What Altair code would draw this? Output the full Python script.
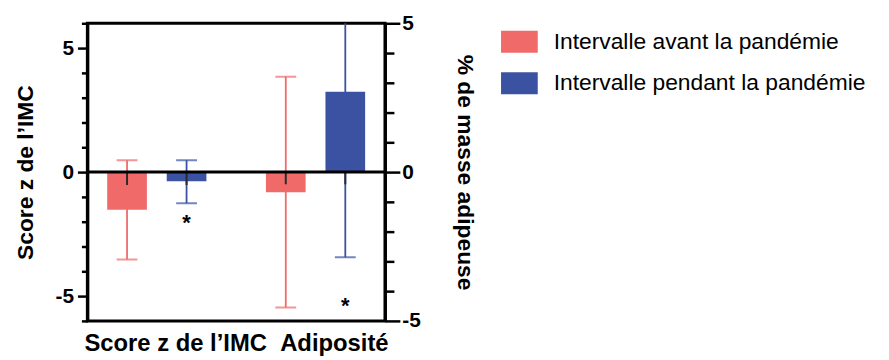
import altair as alt
import pandas as pd

groups = ["Score z de l’IMC", "Adiposité"]
series = ["Intervalle avant la pandémie", "Intervalle pendant la pandémie"]
colors = ["#F06A6A", "#3B52A3"]

# Score z de l'IMC (left axis)
bmi_mean = [-1.52, -0.37]
bmi_low = [-3.52, -1.26]
bmi_high = [0.48, 0.48]
bmi_stub = [-0.52, -0.52]
bmi_star = [None, -1.85]

# Adiposité (right axis, % de masse adipeuse)
adi_mean = [-0.68, 2.7]
adi_low = [-4.55, -2.86]
adi_high = [3.2, 5.3]
adi_stub = [-0.41, -0.41]
adi_star = [None, -4.33]

FONT = "Liberation Sans"

left_df = pd.DataFrame({"group": groups[0], "series": series, "mean": bmi_mean,
                        "low": bmi_low, "high": bmi_high, "stub": bmi_stub})
left_star = pd.DataFrame({"group": groups[0], "series": series, "star": bmi_star}).dropna()
right_df = pd.DataFrame({"group": groups[1], "series": series, "mean": adi_mean,
                         "low": adi_low, "high": adi_high, "stub": adi_stub})
right_star = pd.DataFrame({"group": groups[1], "series": series, "star": adi_star}).dropna()

x_axis = alt.Axis(ticks=False, domain=False, labelFontSize=24, labelFontWeight="bold",
                  labelFont=FONT, labelColor="black", labelPadding=11, labelOffset=19,
                  labelLimit=0, labelAngle=0)
X = alt.X("group:N", scale=alt.Scale(domain=groups, paddingInner=0.375, paddingOuter=0.125),
          axis=x_axis, title=None)
XO = alt.XOffset("series:N", scale=alt.Scale(domain=series, paddingInner=1/3, paddingOuter=0))

legend = alt.Legend(orient="none", legendX=417, legendY=0, title=None,
                    symbolType="M-1,-0.6H1V0.6H-1Z", symbolSize=1369, symbolStrokeWidth=0,
                    labelFontSize=23, labelFont=FONT, labelColor="black", labelOffset=16,
                    rowPadding=11, padding=0, labelLimit=0, symbolOpacity=1)
color_scale = alt.Scale(domain=series, range=colors)
C_leg = alt.Color("series:N", scale=color_scale, legend=legend)
C = alt.Color("series:N", scale=color_scale, legend=None)


def y_axis(orient, vals, major, minor, pad, title_pad):
    return alt.Axis(orient=orient, values=vals,
                    labelExpr="datum.value % 5 == 0 ? toString(datum.value) : ''",
                    tickSize={"condition": {"test": "datum.value % 5 == 0", "value": major}, "value": minor},
                    tickWidth=2.5, tickColor="black", domainWidth=3, domainColor="black",
                    labelFontSize=21, labelFontWeight="bold", labelFont=FONT, labelColor="black",
                    labelPadding=pad, titleFontSize=23, titleFontWeight="bold", titleFont=FONT,
                    titleColor="black", titlePadding=title_pad, grid=False)


def side(df, star_df, domain, axis, title, legend_on):
    ysc = alt.Scale(domain=domain, nice=False, zero=False)
    def Y(f):
        return alt.Y(f"{f}:Q", scale=ysc, axis=axis, title=title)
    bars = alt.Chart(df).mark_bar().encode(x=X, xOffset=XO, y=Y("mean"),
                                           color=C_leg if legend_on else C)
    whisk = alt.Chart(df).mark_rule(strokeWidth=1.8, clip=True).encode(
        x=X, xOffset=XO, y=Y("low"), y2="high:Q", color=C)
    cap_lo = alt.Chart(df).mark_tick(size=21, thickness=2, clip=True).encode(
        x=X, xOffset=XO, y=Y("low"), color=C)
    cap_hi = alt.Chart(df).mark_tick(size=21, thickness=2, clip=True).encode(
        x=X, xOffset=XO, y=Y("high"), color=C)
    stub = alt.Chart(df).mark_rule(strokeWidth=2, color="#2a2a2a").encode(
        x=X, xOffset=XO, y=Y("stub"), y2=alt.datum(0))
    star = alt.Chart(star_df).mark_text(text="*", fontSize=22, fontWeight="bold",
                                        font=FONT, color="black", dy=5).encode(
        x=X, xOffset=XO, y=Y("star"))
    layers = [bars, whisk, cap_lo, cap_hi, stub, star]
    return layers, Y


left_axis = y_axis("left", list(range(-6, 7)), 10, 6, 4, 18)
right_axis = y_axis("right", list(range(-5, 6)), 15, 9, 2, 32)

left_layers, _ = side(left_df, left_star, [-6, 6], left_axis, "Score z de l’IMC", True)
right_layers, YR = side(right_df, right_star, [-5, 5], right_axis, "% de masse adipeuse", False)
zero = alt.Chart(right_df).mark_rule(color="black", strokeWidth=3).encode(
    y=alt.Y("z:Q", scale=alt.Scale(domain=[-5, 5], nice=False, zero=False),
            axis=right_axis, title="% de masse adipeuse")
).transform_calculate(z="0").transform_filter("datum.series == '" + series[0] + "'")

left = alt.layer(*left_layers)
right = alt.layer(*right_layers, zero)

chart = alt.layer(left, right).resolve_scale(y="independent").properties(
    width=300, height=300, autosize="none",
    padding={"left": 80, "top": 14, "right": 500, "bottom": 38}
).configure_view(stroke="black", strokeWidth=3)

chart.save("out.html", embed_options={"renderer": "svg", "actions": False})
